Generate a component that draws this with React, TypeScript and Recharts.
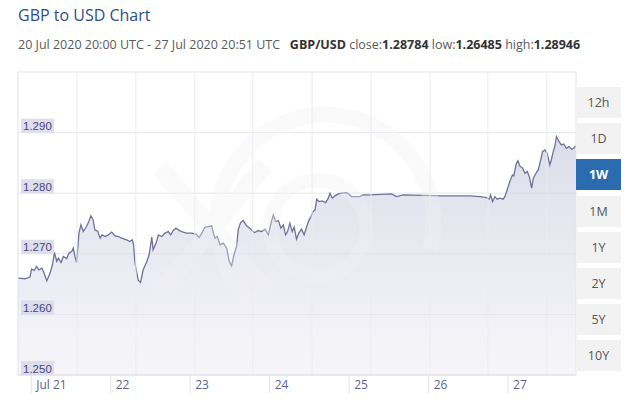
import React from 'react'
import {
  ComposedChart, Area, XAxis, YAxis, CartesianGrid, ReferenceLine,
} from 'recharts'

// hours since 20 Jul 2020 20:00 UTC
const hours = [
  0, 2.1, 3.6, 4.1, 4.9, 5.6, 6.3, 7.2, 7.6, 8.7, 9.7, 10.4, 11.0, 11.7, 12.2, 13.0, 13.7, 14.7, 15.4, 16.2,
  16.7, 17.2, 17.7, 18.4, 19.0, 19.7, 20.7, 21.4, 22.0, 22.7, 23.2, 24.1, 24.8, 25.4, 26.3, 27.3, 28.3, 29.3, 30.3, 31.3,
  32.8, 33.8, 34.5, 34.9, 35.3, 36.3, 37.0, 37.8, 38.9, 39.6, 40.4, 40.8, 41.7, 42.4, 43.4, 44.4, 45.4, 46.1, 46.9, 47.7,
  48.9, 49.9, 50.9, 52.4, 53.7, 54.7, 55.5, 56.5, 57.5, 58.5, 59.0, 59.5, 60.2, 61.0, 62.0, 63.0, 63.8, 64.5, 65.2, 66.0,
  66.5, 67.2, 68.0, 69.0, 70.0, 71.0, 71.5, 72.5, 73.6, 74.6, 75.6, 76.4, 77.1, 77.8, 78.6, 79.4, 80.1, 80.8, 81.4, 82.1,
  82.8, 83.4, 84.1, 84.8, 85.6, 86.4, 87.2, 87.9, 88.5, 89.1, 89.7, 90.2, 90.9, 91.9, 92.9, 93.7, 94.2, 94.9, 95.7, 96.7,
  97.7, 99.2, 99.9, 100.7, 103.2, 104.2, 106.3, 112.8, 114.3, 116.3, 128.3, 136.5, 139.5, 141.5, 142.3, 142.7, 143.3, 144.0, 144.7, 145.5,
  146.5, 147.0, 147.7, 148.5, 149.3, 149.7, 150.5, 151.0, 151.5, 152.4, 153.1, 153.8, 154.4, 155.1, 155.6, 156.4, 157.1, 157.6, 158.4, 159.1,
  159.8, 160.6, 161.1, 161.6, 162.1, 162.6, 163.4, 164.1, 164.8, 165.6, 166.4, 167.2, 167.8, 168.5,
]

const rates = [
  1.26600, 1.26588, 1.26616, 1.26748, 1.26725, 1.26791, 1.26736, 1.26764, 1.26720, 1.26555, 1.26682, 1.26819, 1.27021, 1.26873, 1.26929, 1.26857, 1.26956, 1.26923, 1.27012, 1.27038,
  1.27094, 1.26956, 1.26857, 1.27341, 1.27478, 1.27367, 1.27450, 1.27532, 1.27626, 1.27560, 1.27395, 1.27367, 1.27259, 1.27313, 1.27285, 1.27313, 1.27358, 1.27297, 1.27285, 1.27259,
  1.27231, 1.27203, 1.27231, 1.27148, 1.26860, 1.26563, 1.26527, 1.26736, 1.26873, 1.26984, 1.27275, 1.27066, 1.27176, 1.27313, 1.27285, 1.27341, 1.27367, 1.27313, 1.27384, 1.27423,
  1.27379, 1.27358, 1.27341, 1.27341, 1.27325, 1.27269, 1.27341, 1.27440, 1.27450, 1.27461, 1.27341, 1.27259, 1.27285, 1.27148, 1.27176, 1.27094, 1.26873, 1.26802, 1.26984, 1.27120,
  1.27395, 1.27516, 1.27549, 1.27461, 1.27423, 1.27367, 1.27351, 1.27384, 1.27367, 1.27407, 1.27313, 1.27506, 1.27643, 1.27532, 1.27549, 1.27423, 1.27478, 1.27313, 1.27367, 1.27506,
  1.27367, 1.27440, 1.27242, 1.27341, 1.27407, 1.27313, 1.27450, 1.27560, 1.27615, 1.27697, 1.27725, 1.27901, 1.27862, 1.27873, 1.27845, 1.27918, 1.28000, 1.27918, 1.27956, 1.27988,
  1.28000, 1.28010, 1.27988, 1.27944, 1.27944, 1.27972, 1.27972, 1.27988, 1.27944, 1.27972, 1.27956, 1.27956, 1.27944, 1.27928, 1.27901, 1.27972, 1.27862, 1.27944, 1.27901, 1.27918,
  1.27901, 1.27944, 1.28054, 1.28191, 1.28301, 1.28285, 1.28494, 1.28537, 1.28450, 1.28412, 1.28329, 1.28356, 1.28273, 1.28082, 1.28247, 1.28329, 1.28384, 1.28494, 1.28685, 1.28713,
  1.28659, 1.28466, 1.28560, 1.28685, 1.28768, 1.28932, 1.28850, 1.28796, 1.28812, 1.28741, 1.28768, 1.28725, 1.28741, 1.28784,
]

const dayHours = [4, 28, 52, 76, 100, 124, 148]
const dayLabels = ['Jul 21', '22', '23', '24', '25', '26', '27']
const gridHours = [17.8, 35.6, 53.4, 70.9, 88.8, 106.6, 124.4, 141.9, 159.7]
const rateTicks = [1.25, 1.26, 1.27, 1.28, 1.29, 1.3]
const ranges = ['12h', '1D', '1W', '1M', '1Y', '2Y', '5Y', '10Y']
const activeRange = '1W'

const data = hours.map((h, i) => ({ h, rate: rates[i] }))

const FONT = "'Open Sans', sans-serif"
const PLOT_LEFT = 18

function RateTick(props: any) {
  const { y, payload } = props
  if (payload.value >= 1.3) return null
  return (
    <g>
      <rect x={PLOT_LEFT + 3} y={y - 14} width={33} height={14} fill="#d8d8ea" fillOpacity={0.85} />
      <text x={PLOT_LEFT + 5} y={y - 2.5} fontSize={11.5} fill="#45477a" fontFamily="'Liberation Sans', Arial, sans-serif">
        {payload.value.toFixed(3)}
      </text>
    </g>
  )
}

function DayTick(props: any) {
  const { x, y, payload, index } = props
  return (
    <g>
      <line x1={x} x2={x} y1={y} y2={y + 18} stroke="#e2e2ea" />
      <text x={x + 5} y={y + 14} fontSize={12} fill="#5d5f8f" fontFamily={FONT}>
        {dayLabels[index] ?? payload.value}
      </text>
    </g>
  )
}

export default function App() {
  return (
    <div style={{ position: 'absolute', left: 0, top: 0, width: 631, height: 403, background: '#fff', fontFamily: FONT }}>
      <div style={{ position: 'absolute', left: 18, top: 4, fontSize: 16, color: '#2f4d8a', lineHeight: '22px' }}>
        GBP to USD Chart
      </div>
      <div style={{ position: 'absolute', left: 18, top: 36, fontSize: 12.5, color: '#5a5a5a', lineHeight: '18px', whiteSpace: 'pre' }}>
        {'20 Jul 2020 20:00 UTC - 27 Jul 2020 20:51 UTC   '}
        <b style={{ color: '#333' }}>GBP/USD</b>{' close:'}<b style={{ color: '#333' }}>1.28784</b>
        {' low:'}<b style={{ color: '#333' }}>1.26485</b>{' high:'}<b style={{ color: '#333' }}>1.28946</b>
      </div>

      <div style={{ position: 'absolute', left: 0, top: 0 }}>
        <ComposedChart width={631} height={403} data={data} margin={{ top: 72, right: 55, bottom: 0, left: PLOT_LEFT }}>
          <defs>
            <linearGradient id="fillGbp" x1="0" y1="0" x2="0" y2="1">
              <stop offset="0%" stopColor="#c3c4db" stopOpacity={0.95} />
              <stop offset="100%" stopColor="#f0f0f6" stopOpacity={0.95} />
            </linearGradient>
          </defs>
          <CartesianGrid stroke="#e6e6ee" vertical={false} />
          <XAxis
            dataKey="h"
            type="number"
            domain={[0, 168.5]}
            ticks={dayHours}
            tick={<DayTick />}
            tickSize={0}
            tickMargin={0}
            height={28}
            axisLine={{ stroke: '#dcdce4' }}
            tickLine={false}
            interval={0}
          />
          <ReferenceLine x={0} stroke="#e2e2ea" />
          <ReferenceLine x={168.5} stroke="#e2e2ea" />
          {gridHours.map(g => (
            <ReferenceLine key={g} x={g} stroke="#ebebf1" />
          ))}
          <Area
            type="linear"
            dataKey="rate"
            stroke="#6f7199"
            strokeWidth={1.3}
            fill="url(#fillGbp)"
            isAnimationActive={false}
            dot={false}
            activeDot={false}
          />
          <YAxis
            type="number"
            domain={[1.25, 1.3]}
            ticks={rateTicks}
            tick={<RateTick />}
            mirror
            width={40}
            axisLine={false}
            tickLine={false}
            interval={0}
          />
        </ComposedChart>
      </div>

      {/* faint watermark */}
      <svg width={631} height={403} style={{ position: 'absolute', left: 0, top: 0, pointerEvents: 'none' }}>
        <g opacity={0.35} fill="none" stroke="#f2f2f6">
          <path d="M 250 300 A 108 108 0 1 1 430 250" strokeWidth={16} />
          <circle cx={318} cy={228} r={48} strokeWidth={14} />
          <path d="M 160 168 L 268 292 M 265 165 L 160 292" strokeWidth={18} />
        </g>
      </svg>

      {ranges.map((r, i) => {
        const active = r === activeRange
        return (
          <div
            key={r}
            style={{
              position: 'absolute', left: 576, top: 87 + i * 36.2, width: 45, height: 31,
              background: active ? '#2b6cb0' : '#f2f2f2',
              color: active ? '#fff' : '#555',
              fontWeight: active ? 700 : 400,
              fontSize: 12.5, lineHeight: '31px', textAlign: 'center',
            }}
          >
            {r}
          </div>
        )
      })}
    </div>
  )
}
